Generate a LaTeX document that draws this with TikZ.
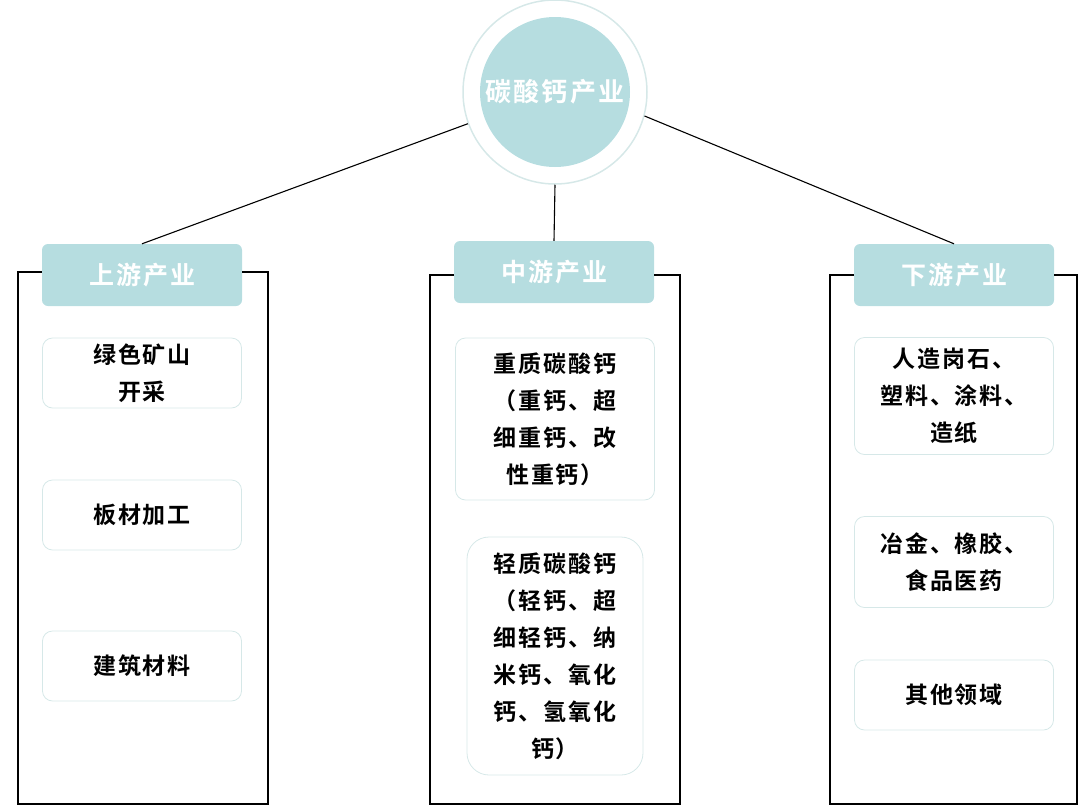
\documentclass[tikz,border=0pt]{standalone}
\usepackage{fontspec}
\setmainfont{Noto Sans CJK SC}[BoldFont={* Bold}, LetterSpace=8]
\definecolor{tealbg}{HTML}{B6DDE0}
\definecolor{edgegray}{HTML}{D6E8E8}
\begin{document}
\begin{tikzpicture}[x=1pt,y=-1pt]

\tikzset{
  head/.style={fill=tealbg, rounded corners=6pt, minimum width=200pt, minimum height=62pt,
    font=\fontsize{25}{28}\selectfont\bfseries, text=white, inner sep=0pt},
  item/.style={draw=edgegray, thick, rounded corners=10pt, minimum width=199pt,
    font=\fontsize{23}{37}\selectfont\bfseries, align=center, inner sep=0pt},
  frame/.style={line width=1.3pt},
  link/.style={line width=1.1pt},
}

\useasboundingbox (0,0) rectangle (1080,809);

% root circle
\node[circle, draw=edgegray, line width=1.5pt, minimum size=184pt, inner sep=0pt] (ring) at (555,92) {};
\node[circle, fill=tealbg, minimum size=150pt, inner sep=0pt, text=white,
  font=\fontsize{26}{28}\selectfont\bfseries] (root) at (555,92) {碳酸钙产业};

% ---------------- upstream ----------------
\node[head] (up) at (142,275) {上游产业};
\draw[frame] (up.west |- 0,272) -- (18,272) -- (18,804) -- (268,804) -- (268,272) -- (up.east |- 0,272);
\node[item, minimum height=70pt] (up1) at (142,373) {绿色矿山\\开采};
\node[item, minimum height=70pt] (up2) at (142,515) {板材加工};
\node[item, minimum height=70pt] (up3) at (142,666) {建筑材料};

% ---------------- midstream ----------------
\node[head] (mid) at (554,272) {中游产业};
\draw[frame] (mid.west |- 0,275) -- (430,275) -- (430,804) -- (680,804) -- (680,275) -- (mid.east |- 0,275);
\node[item, minimum height=162pt] (mid1) at (555,419) {重质碳酸钙\\（重钙、超\\细重钙、改\\性重钙）};
\node[item, minimum width=176pt, minimum height=238pt, rounded corners=22pt] (mid2) at (555,656)
  {轻质碳酸钙\\（轻钙、超\\细轻钙、纳\\米钙、氧化\\钙、氢氧化\\钙）};

% ---------------- downstream ----------------
\node[head] (down) at (954,275) {下游产业};
\draw[frame] (down.west |- 0,275) -- (830,275) -- (830,804) -- (1077,804) -- (1077,275) -- (down.east |- 0,275);
\node[item, minimum height=117pt] (down1) at (954,396) {人造岗石、\\塑料、涂料、\\造纸};
\node[item, minimum height=91pt] (down2) at (954,562) {冶金、橡胶、\\食品医药};
\node[item, minimum height=70pt] (down3) at (954,695) {其他领域};

% links
\draw[link] (ring.200) -- (up.north);
\draw[link] (ring.south) -- (mid.north);
\draw[link] (ring.-15) -- (down.north);

\end{tikzpicture}
\end{document}
